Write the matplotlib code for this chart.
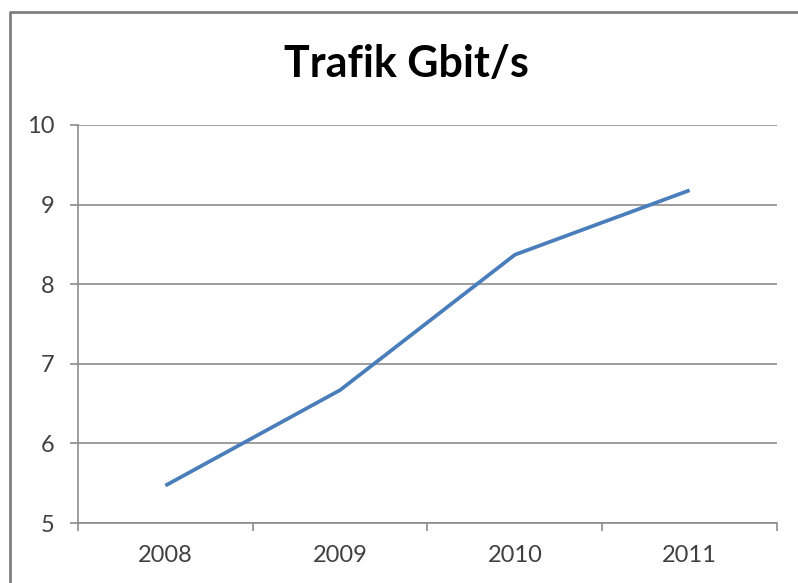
import matplotlib
matplotlib.use("Agg")
import matplotlib.pyplot as plt
from matplotlib.lines import Line2D

years = ["2008", "2009", "2010", "2011"]
traffic = [5.47, 6.67, 8.37, 9.18]
y_ticks = [5, 6, 7, 8, 9, 10]

W, H = 798, 583
fig = plt.figure(figsize=(W / 100, H / 100), dpi=100)
fig.patch.set_facecolor("white")

# plot area in pixels: x 78..777, y 125..523
ax = fig.add_axes([78 / W, 1 - 523 / H, (777 - 78) / W, (523 - 125) / H])

x = list(range(len(years)))
ax.plot(x, traffic, color="#4A7EBB", linewidth=2.7, solid_capstyle="butt")

ax.set_xlim(-0.5, len(years) - 0.5)
ax.set_ylim(5, 10)
ax.set_yticks(y_ticks)
ax.set_xticks(x)
ax.set_xticklabels(years)
ax.set_xticks([i - 0.5 for i in range(len(years) + 1)], minor=True)

grid_col = "#8C8C8C"
ax.grid(axis="y", color=grid_col, linewidth=1.2)
ax.set_axisbelow(True)
for side in ["top", "right"]:
    ax.spines[side].set_visible(False)
for side in ["left", "bottom"]:
    ax.spines[side].set_color(grid_col)
    ax.spines[side].set_linewidth(1.2)

ax.tick_params(axis="x", which="major", length=0, pad=16)
ax.tick_params(axis="x", which="minor", length=6, width=1.2, color=grid_col)
ax.tick_params(axis="y", length=6, width=1.2, color=grid_col, pad=11)
for lbl in ax.get_xticklabels() + ax.get_yticklabels():
    lbl.set_fontfamily("Lato")
    lbl.set_fontsize(17)
    lbl.set_color("#404040")

fig.text(406 / W, 1 - 64 / H, "Trafik Gbit/s", ha="center", va="center",
         fontfamily="Lato", fontweight="bold", fontsize=31, color="black")

# outer chart frame
bx, by = 10 / W, 1 - 12 / H
fig.add_artist(Line2D([bx, bx, 1.0], [0, by, by], transform=fig.transFigure,
                      color="#7F7F7F", linewidth=2))

fig.savefig("out.png", dpi=100)
